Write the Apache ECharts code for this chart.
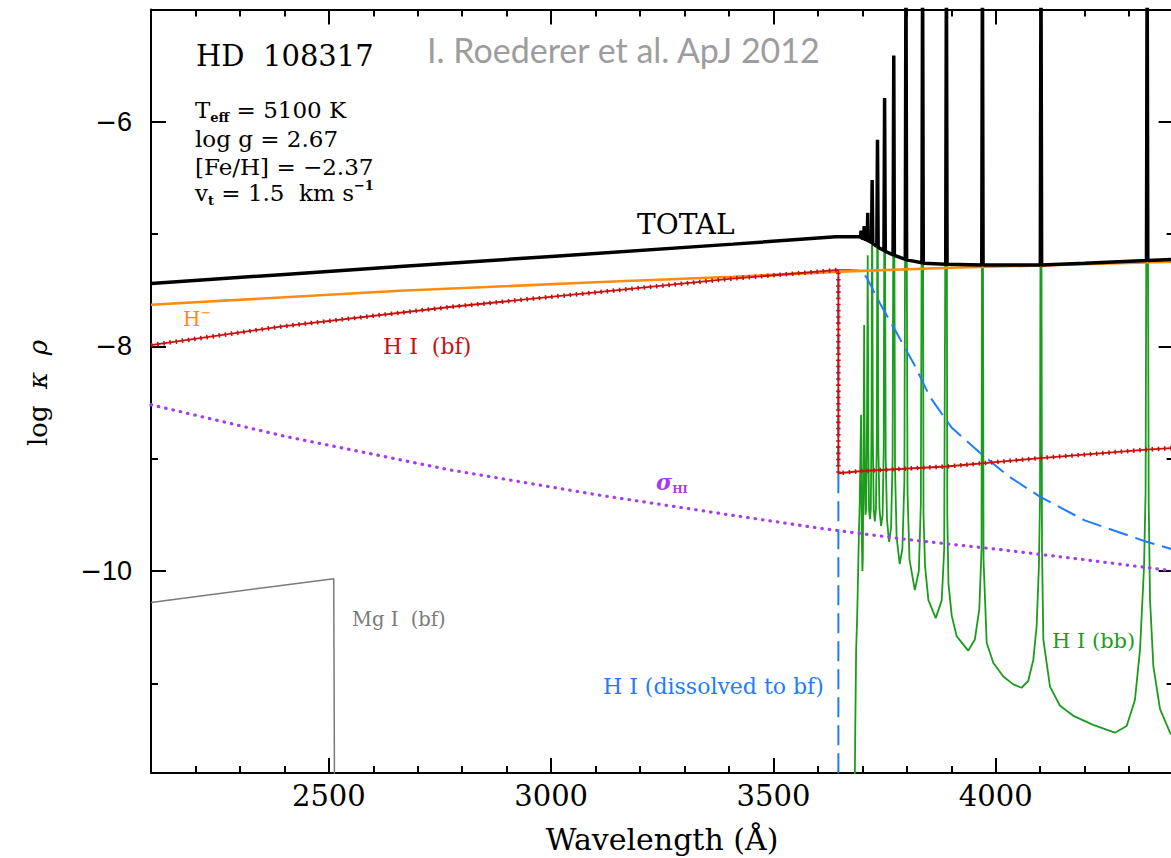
<!DOCTYPE html>
<html>
<head>
<meta charset="utf-8">
<script src="https://cdn.jsdelivr.net/npm/echarts@6/dist/echarts.min.js"></script>
<style>
html,body{margin:0;padding:0;background:#ffffff;}
#chart{width:1171px;height:858px;}
</style>
</head>
<body>
<div id="chart"></div>
<script>
// ---------------- data ----------------
const xMin = 2100, xMax = 4400;
const yMin = -11.8, yMax = -5;
const xMajorTicks = [2500, 3000, 3500, 4000];
const yMajorTicks = [-10, -8, -6];
const yMinorTicks = [-11, -9, -7];

// TOTAL opacity (black), wavelength [A], log kappa*rho
const totalCurve = [
  [2100,-7.44],[2400,-7.36],[2660,-7.29],[3000,-7.20],[3409,-7.09],[3640,-7.025],[3694,-7.025],
  [3696,-7.03],[3697,-6.97],[3698,-7.035],
  [3703,-7.04],[3704,-6.93],[3705,-7.045],
  [3711,-7.055],[3712,-6.81],[3713,-7.06],
  [3720.5,-7.075],[3722,-6.52],[3723.5,-7.085],
  [3732.5,-7.11],[3734,-6.16],[3735.5,-7.12],
  [3748.5,-7.145],[3750,-5.79],[3751.5,-7.155],
  [3769,-7.185],[3770.6,-5.41],[3772,-7.19],
  [3796.5,-7.225],[3798,-4.5],[3799.5,-7.23],
  [3834,-7.255],[3835.4,-4.5],[3837,-7.26],
  [3887.5,-7.27],[3889,-4.5],[3890.5,-7.27],
  [3968.5,-7.275],[3970,-4.5],[3971.5,-7.275],
  [4100.2,-7.275],[4101.7,-4.5],[4103.2,-7.275],
  [4200,-7.26],
  [4339,-7.235],[4340.5,-4.5],[4342,-7.235],
  [4400,-7.225]
];

// H- (orange)
const hMinus = [
  [2100,-7.63],[2660,-7.505],[3100,-7.43],[3409,-7.38],[3650,-7.335],[3900,-7.30],[4100,-7.28],[4400,-7.245]
];

// H I bound-free (red)
const hiBf = [
  [2100,-7.99],[2400,-7.82],[2772,-7.65],[3100,-7.52],[3400,-7.40],[3646,-7.32],
  [3646,-9.13],[3700,-9.11],[3889,-9.07],[4100,-8.995],[4339,-8.92],[4400,-8.905]
];

// H I dissolved to bf (blue dashed)
const hiDissolved = [
  [3646,-12.3],[3646,-7.32],[3670,-7.32],[3690,-7.325],[3698,-7.33],[3710,-7.39],[3740,-7.62],
  [3777,-7.88],[3815,-8.15],[3852,-8.45],[3900,-8.72],[3965,-8.95],[4030,-9.16],[4100,-9.34],
  [4200,-9.55],[4339,-9.74],[4400,-9.81]
];

// Rayleigh scattering sigma_HI (purple dotted)
const sigmaHI = [
  [2100,-8.52],[2400,-8.80],[2772,-9.10],[3100,-9.32],[3400,-9.50],[3605,-9.62],
  [3800,-9.72],[4010,-9.81],[4200,-9.90],[4400,-10.0]
];

// Mg I bound-free (gray)
const mgIbf = [
  [2100,-10.28],[2511,-10.07],[2513,-12.3]
];

// H I bound-bound (green)
const hiBb = [
  [3682,-12.3],[3684,-11.4],[3686,-10.7],[3688,-10.45],[3690,-10.1],[3692,-9.7],[3694,-9.4],[3695.5,-9.0],[3697,-8.61],
  [3698.5,-9.6],[3700,-10.0],[3701,-9.9],[3702.5,-9.0],[3704,-7.81],
  [3705.5,-9.2],[3707,-9.5],[3708.5,-9.45],[3710.5,-8.6],[3712,-7.19],
  [3713.5,-8.9],[3715,-9.45],[3717,-9.54],[3719,-9.45],[3720.5,-8.7],[3722,-6.6],
  [3723.5,-8.8],[3725.5,-9.45],[3728,-9.56],[3730.5,-9.45],[3732.5,-8.8],[3734,-6.2],
  [3736,-8.9],[3738.5,-9.45],[3742,-9.6],[3745.5,-9.5],[3748,-8.9],[3750,-5.85],
  [3752.5,-9.0],[3755.5,-9.55],[3760,-9.74],[3764.5,-9.62],[3768,-9.0],[3770.6,-5.45],
  [3773.5,-9.1],[3777,-9.7],[3784,-9.94],[3790,-9.8],[3794.5,-9.2],[3798,-4.5],
  [3801.5,-9.3],[3806,-9.9],[3818,-10.17],[3827,-10.0],[3831.5,-9.4],[3835.4,-4.5],
  [3837.5,-9.5],[3841,-9.96],[3848.5,-10.26],[3865,-10.42],[3878.5,-10.26],[3884,-9.81],[3889,-4.5],
  [3891,-9.5],[3893.6,-10.11],[3901,-10.40],[3912,-10.58],[3938,-10.71],[3953,-10.61],[3963,-10.34],[3968,-9.81],[3970,-4.5],
  [3972.5,-9.9],[3979.6,-10.64],[3994.6,-10.82],[4017,-10.94],[4039.5,-11.01],[4058,-11.04],[4073,-10.98],
  [4084.5,-10.79],[4092,-10.49],[4097,-9.96],[4099.5,-9.37],[4101.7,-4.5],
  [4104,-9.8],[4107,-10.61],[4122,-11.03],[4144.5,-11.20],[4174.5,-11.29],[4219,-11.37],[4268,-11.44],
  [4294.5,-11.38],[4313,-11.15],[4324.5,-10.70],[4333.5,-9.96],[4337,-9.3],[4340.5,-4.5],
  [4344,-9.4],[4347,-10.26],[4354.5,-10.85],[4369.5,-11.23],[4392,-11.44],[4400,-11.48]
];

// ---------------- chart ----------------
const chart = echarts.init(document.getElementById('chart'), null, {renderer: 'svg'});

const serif = 'DejaVu Serif';
const axisLineStyle = {color: '#000', width: 2};

function xAxisDef(position, major, showLine) {
  const ax = {
    type: 'value', min: xMin, max: xMax, position: position,
    axisLine: {show: showLine, onZero: false, lineStyle: axisLineStyle},
    axisTick: {show: true, inside: true, length: major ? 15 : 7, lineStyle: {color: '#000', width: 2}},
    axisLabel: {show: false},
    splitLine: {show: false}
  };
  if (major) {
    ax.axisTick.customValues = xMajorTicks;
    ax.axisLabel = {show: position === 'bottom', customValues: xMajorTicks,
      fontFamily: serif, fontSize: 29, color: '#000', margin: 8,
      formatter: v => String(v)};
  } else {
    ax.interval = 100;
  }
  return ax;
}
function yAxisDef(position, major, showLine) {
  const vals = major ? yMajorTicks : yMinorTicks;
  const ax = {
    type: 'value', min: yMin, max: yMax, position: position,
    axisLine: {show: showLine, onZero: false, lineStyle: axisLineStyle},
    axisTick: {show: true, inside: true, length: major ? 15 : 7, customValues: vals,
      lineStyle: {color: '#000', width: 2}},
    axisLabel: {show: false, customValues: vals},
    splitLine: {show: false}
  };
  if (major && position === 'left') {
    ax.axisLabel = {show: true, customValues: yMajorTicks, color: '#000', margin: 19,
      formatter: v => '{m|\u2212}{d|' + Math.abs(v) + '}',
      rich: {
        m: {fontFamily: 'DejaVu Sans', fontSize: 26, color: '#000'},
        d: {fontFamily: 'Liberation Sans', fontSize: 27, color: '#000'}
      }};
  }
  return ax;
}

function lineSeries(name, data, color, width, extra) {
  return Object.assign({
    name: name, type: 'line', data: data, xAxisIndex: 0, yAxisIndex: 0,
    showSymbol: false, symbol: 'none', clip: true, silent: true, animation: false,
    lineStyle: Object.assign({color: color, width: width, join: 'bevel'}, (extra && extra.ls) || {})
  }, (extra && extra.s) || {});
}

const purple = '#a23cf5';
const red = '#c8100f';
const green = '#1c9c1c';
const blue = '#1f7bff';
const orange = '#ff8c10';
const gray = '#7a7a7a';

const option = {
  backgroundColor: '#ffffff',
  animation: false,
  grid: {left: 151, top: 9.4, width: 1022.6, height: 763.7, containLabel: false, outerBoundsMode: 'none'},
  xAxis: [xAxisDef('bottom', false, true), xAxisDef('bottom', true, false),
          xAxisDef('top', false, true), xAxisDef('top', true, false)],
  yAxis: [yAxisDef('left', false, true), yAxisDef('left', true, false),
          yAxisDef('right', false, true), yAxisDef('right', true, false)],
  series: [
    lineSeries('H I (bb)', hiBb, green, 1.8),
    lineSeries('Mg I (bf)', mgIbf, gray, 1.5),
    lineSeries('sigma HI', sigmaHI, purple, 3.2, {ls: {type: [0.5, 7], cap: 'round'}}),
    lineSeries('H I (dissolved to bf)', hiDissolved, blue, 2, {ls: {type: [20, 8]}}),
    lineSeries('H-', hMinus, orange, 2.6),
    lineSeries('H I (bf)', hiBf, red, 1.8),
    lineSeries('H I (bf) markers', hiBf, red, 4.5, {ls: {type: [1.6, 4.6]}}),
    lineSeries('TOTAL', totalCurve, '#000', 3.5)
  ],
  graphic: [
    {type: 'text', x: 196, y: 56, style: {text: 'HD  108317', fill: '#000',
      font: '29px "DejaVu Serif"', align: 'left', verticalAlign: 'middle'}},
    {type: 'text', x: 427, y: 49, style: {text: 'I. Roederer et al. ApJ 2012', fill: '#9d9d9d',
      font: '34px Lato', align: 'left', verticalAlign: 'middle'}},
    {type: 'text', x: 195, y: 110, style: {text: '{m|T}{s|eff}{m| = 5100 K}', fill: '#000',
      align: 'left', verticalAlign: 'middle',
      rich: {m: {fontFamily: serif, fontSize: 23, lineHeight: 28, fill: '#000'},
             s: {fontFamily: serif, fontSize: 13, fontWeight: 'bold', lineHeight: 12, verticalAlign: 'bottom', fill: '#000'}}}},
    {type: 'text', x: 195, y: 139, style: {text: 'log g = 2.67', fill: '#000',
      font: '23px "DejaVu Serif"', align: 'left', verticalAlign: 'middle'}},
    {type: 'text', x: 195, y: 167, style: {text: '[Fe/H] = \u22122.37', fill: '#000',
      font: '23px "DejaVu Serif"', align: 'left', verticalAlign: 'middle'}},
    {type: 'text', x: 195, y: 193, style: {text: '{m|v}{s|t}{m| = 1.5  km s}{p|\u22121}', fill: '#000',
      align: 'left', verticalAlign: 'middle',
      rich: {m: {fontFamily: serif, fontSize: 23, lineHeight: 28, fill: '#000'},
             s: {fontFamily: serif, fontSize: 13, fontWeight: 'bold', lineHeight: 12, verticalAlign: 'bottom', fill: '#000'},
             p: {fontFamily: serif, fontSize: 13, fontWeight: 'bold', lineHeight: 18, verticalAlign: 'top', fill: '#000'}}}},
    {type: 'text', x: 637, y: 224, style: {text: 'TOTAL', fill: '#000',
      font: '28px "DejaVu Serif"', align: 'left', verticalAlign: 'middle'}},
    {type: 'text', x: 183, y: 319, style: {text: '{m|H}{p|\u2212}', align: 'left', verticalAlign: 'middle',
      rich: {m: {fontFamily: serif, fontSize: 20, lineHeight: 26, fill: orange},
             p: {fontFamily: serif, fontSize: 13, lineHeight: 14, verticalAlign: 'top', fill: orange}}}},
    {type: 'text', x: 383, y: 346, style: {text: 'H I  (bf)', fill: red,
      font: '22px "DejaVu Serif"', align: 'left', verticalAlign: 'middle'}},
    {type: 'text', x: 656, y: 482, style: {text: '{g|\u03c3}{s|HI}', align: 'left', verticalAlign: 'middle',
      rich: {g: {fontFamily: serif, fontSize: 22, fontStyle: 'italic', fontWeight: 'bold', lineHeight: 26, fill: purple},
             s: {fontFamily: serif, fontSize: 11, fontWeight: 'bold', lineHeight: 12, verticalAlign: 'bottom', fill: purple}}}},
    {type: 'text', x: 352, y: 619, style: {text: 'Mg I  (bf)', fill: gray,
      font: '19.5px "DejaVu Serif"', align: 'left', verticalAlign: 'middle'}},
    {type: 'text', x: 603, y: 686, style: {text: 'H I (dissolved to bf)', fill: blue,
      font: '22px "DejaVu Serif"', align: 'left', verticalAlign: 'middle'}},
    {type: 'text', x: 1052, y: 641, style: {text: 'H I (bb)', fill: green,
      font: '21px "DejaVu Serif"', align: 'left', verticalAlign: 'middle'}},
    {type: 'text', x: 662, y: 839, style: {text: 'Wavelength (\u00c5)', fill: '#000',
      font: '30px "DejaVu Serif"', align: 'center', verticalAlign: 'middle'}},
    {type: 'text', x: 38, y: 393, rotation: Math.PI / 2, style: {text: '{m|log  }{g|\u03ba  \u03c1}',
      align: 'center', verticalAlign: 'middle',
      rich: {m: {fontFamily: serif, fontSize: 26, lineHeight: 30, fill: '#000'},
             g: {fontFamily: serif, fontSize: 26, fontStyle: 'italic', lineHeight: 30, fill: '#000'}}}}
  ]
};
chart.setOption(option);
</script>
</body>
</html>
